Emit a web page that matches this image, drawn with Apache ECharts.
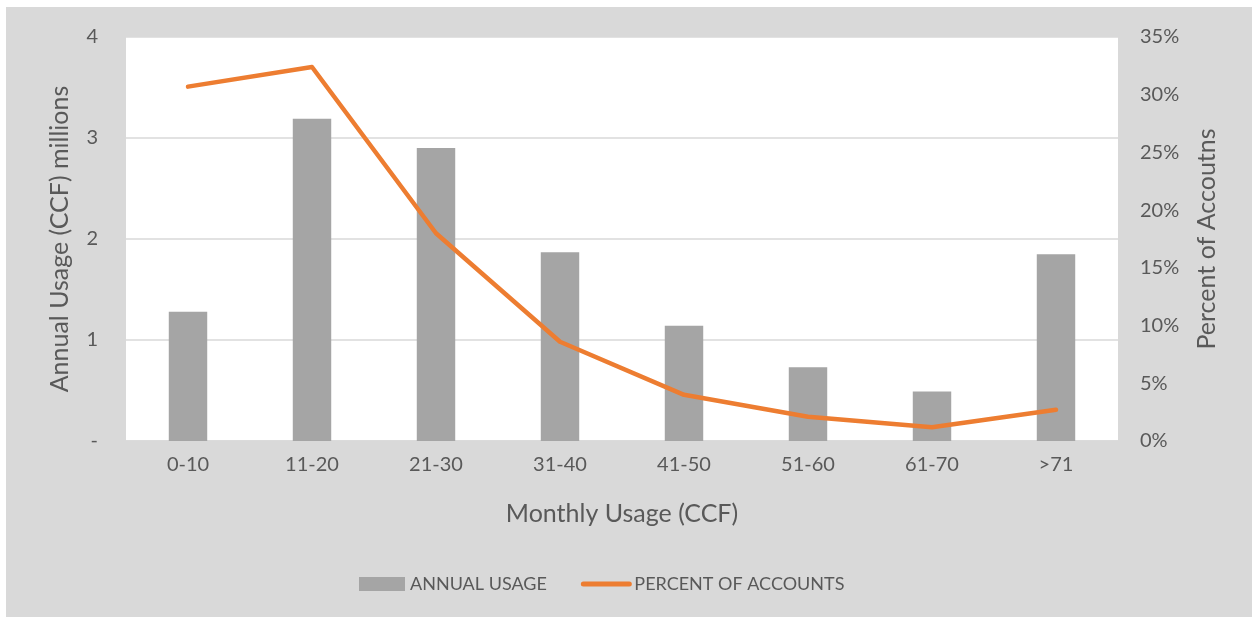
<!DOCTYPE html>
<html>
<head>
<meta charset="utf-8">
<script src="https://cdn.jsdelivr.net/npm/echarts@6/dist/echarts.min.js"></script>
<style>
html,body{margin:0;padding:0;background:#ffffff;width:1252px;height:617px;overflow:hidden;}
#chart{position:absolute;left:6px;top:7px;width:1246px;height:610px;}
</style>
</head>
<body>
<div id="chart"></div>
<script>
const categories = ['0-10','11-20','21-30','31-40','41-50','51-60','61-70','>71'];
const annualUsage = [1.28, 3.19, 2.90, 1.87, 1.14, 0.73, 0.49, 1.85];
const percentAccounts = [30.7, 32.4, 18.0, 8.6, 4.0, 2.1, 1.2, 2.7];
const leftTicks = ['-', '1', '2', '3', '4'];

const FONT = 'Lato';
const TXT = '#595959';
const chart = echarts.init(document.getElementById('chart'));
chart.setOption({
  backgroundColor: '#d9d9d9',
  textStyle: {fontFamily: FONT, color: TXT},
  grid: {left: 120, top: 30, right: 134, bottom: 176, show: true, backgroundColor: '#ffffff', borderWidth: 0, containLabel: false},
  legend: {
    bottom: 19, left: 348, itemGap: 34, itemWidth: 46, itemHeight: 14,
    textStyle: {fontFamily: FONT, fontSize: 18, color: TXT},
    data: [
      {name: 'ANNUAL USAGE', icon: 'rect'},
      {name: 'PERCENT OF ACCOUNTS', itemStyle: {opacity: 0}, lineStyle: {color: '#ed7d31', width: 5, cap: 'round'}}
    ]
  },
  xAxis: {
    type: 'category', data: categories,
    name: 'Monthly Usage (CCF)', nameLocation: 'middle', nameGap: 60,
    nameTextStyle: {fontFamily: FONT, fontSize: 25, color: TXT},
    axisLine: {show: true, lineStyle: {color: '#d9d9d9', width: 1.5}},
    axisTick: {show: false},
    axisLabel: {fontFamily: FONT, fontSize: 20, color: TXT, margin: 14}
  },
  yAxis: [{
    type: 'value', min: 0, max: 4, interval: 1,
    name: 'Annual Usage (CCF) millions', nameLocation: 'middle', nameRotate: 90, nameGap: 54,
    nameTextStyle: {fontFamily: FONT, fontSize: 25, color: TXT},
    axisLine: {show: false}, axisTick: {show: false},
    axisLabel: {fontFamily: FONT, fontSize: 20, color: TXT, margin: 28, formatter: v => leftTicks[Math.round(v)]},
    splitLine: {show: true, lineStyle: {color: '#d9d9d9', width: 1.5}}
  }, {
    type: 'value', min: 0, max: 35, interval: 5, position: 'right',
    name: 'Percent of Accoutns', nameLocation: 'middle', nameRotate: 90, nameGap: 76,
    nameTextStyle: {fontFamily: FONT, fontSize: 25, color: TXT},
    axisLine: {show: false}, axisTick: {show: false},
    axisLabel: {fontFamily: FONT, fontSize: 20, color: TXT, margin: 22, formatter: v => v + '%'},
    splitLine: {show: false}
  }],
  series: [{
    name: 'ANNUAL USAGE', type: 'bar', data: annualUsage, yAxisIndex: 0,
    barWidth: '31%', itemStyle: {color: '#a5a5a5'}
  }, {
    name: 'PERCENT OF ACCOUNTS', type: 'line', data: percentAccounts, yAxisIndex: 1,
    symbol: 'none', smooth: false,
    lineStyle: {color: '#ed7d31', width: 4.5, cap: 'round', join: 'round'},
    itemStyle: {color: '#ed7d31'}
  }]
});
</script>
</body>
</html>
